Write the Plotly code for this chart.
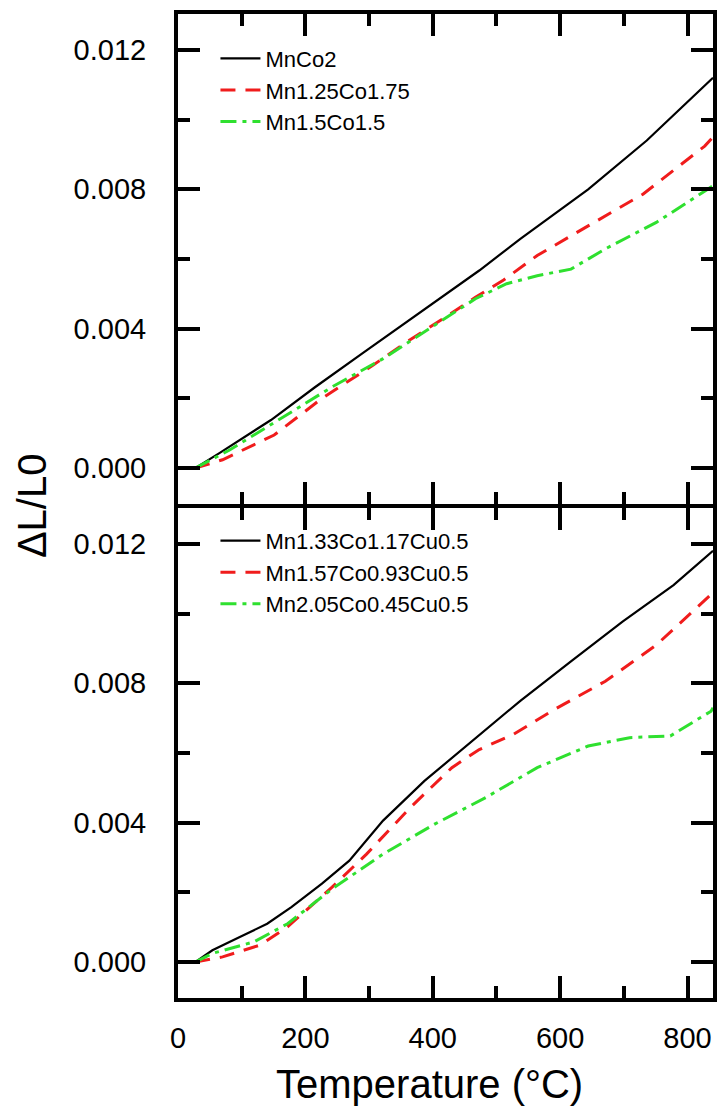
import plotly.graph_objects as go
from plotly.subplots import make_subplots

# ---------------- data ----------------
# Top panel
top_names = ["MnCo2", "Mn1.25Co1.75", "Mn1.5Co1.5"]
top_black_T = [27, 65, 146, 215, 290, 344, 403, 473, 537, 596, 644, 736, 840]
top_black_V = [0, 0.00043, 0.00138, 0.00232, 0.00330, 0.0040, 0.00475, 0.00567,
               0.00657, 0.00736, 0.0080, 0.0094, 0.0112]
top_red_T = [27, 70, 151, 226, 306, 355, 424, 467, 510, 564, 644, 730, 827, 840]
top_red_V = [0, 0.00024, 0.00095, 0.0020, 0.00295, 0.00357, 0.00438, 0.0049,
             0.00538, 0.0061, 0.00695, 0.00786, 0.00924, 0.0095]
top_green_T = [27, 81, 162, 242, 322, 403, 467, 516, 564, 617, 671, 751, 832, 840]
top_green_V = [0, 0.00052, 0.00143, 0.00233, 0.00314, 0.0041, 0.00486, 0.00529,
               0.00552, 0.00571, 0.00629, 0.00705, 0.0080, 0.0081]

# Bottom panel
bot_names = ["Mn1.33Co1.17Cu0.5", "Mn1.57Co0.93Cu0.5", "Mn2.05Co0.45Cu0.5"]
bot_black_T = [27, 54, 97, 140, 178, 226, 269, 322, 387, 462, 537, 617, 698, 778, 821, 840]
bot_black_V = [0, 0.00034, 0.00072, 0.0011, 0.00158, 0.00225, 0.00291, 0.00406,
               0.0052, 0.00634, 0.00749, 0.00863, 0.00977, 0.01082, 0.01149, 0.0118]
bot_red_T = [27, 70, 129, 172, 242, 296, 365, 430, 473, 526, 591, 671, 751, 837, 840]
bot_red_V = [0, 0.00015, 0.00049, 0.00101, 0.00215, 0.0031, 0.00444, 0.00558,
             0.0061, 0.00653, 0.00725, 0.00806, 0.0091, 0.01053, 0.0106]
bot_green_T = [27, 54, 119, 172, 242, 322, 403, 483, 564, 644, 709, 773, 837, 840]
bot_green_V = [0, 0.00025, 0.00058, 0.0011, 0.0021, 0.0031, 0.00396, 0.00472,
               0.00558, 0.0062, 0.00644, 0.00649, 0.0072, 0.0073]

y_ticks = [0.0, 0.004, 0.008, 0.012]
y_ticklabels = ["0.000", "0.004", "0.008", "0.012"]
x_ticks = [0, 200, 400, 600, 800]

# ---------------- styles ----------------
FONT = "Liberation Sans, Arial, sans-serif"
BLACK = "#000000"
RED = "#f01c1c"
GREEN = "#2fe02f"
styles = [
    dict(color=BLACK, width=2.2, dash="solid"),
    dict(color=RED, width=3, dash="15px,10px"),
    dict(color=GREEN, width=3, dash="16px,6px,4px,6px"),
]

fig = make_subplots(rows=2, cols=1, shared_xaxes=True, vertical_spacing=0)

top_series = [(top_black_T, top_black_V), (top_red_T, top_red_V), (top_green_T, top_green_V)]
bot_series = [(bot_black_T, bot_black_V), (bot_red_T, bot_red_V), (bot_green_T, bot_green_V)]

for (T, V), name, st in zip(top_series, top_names, styles):
    fig.add_trace(go.Scatter(x=T, y=V, mode="lines", name=name, line=st,
                             legend="legend"), row=1, col=1)
for (T, V), name, st in zip(bot_series, bot_names, styles):
    fig.add_trace(go.Scatter(x=T, y=V, mode="lines", name=name, line=st,
                             legend="legend2"), row=2, col=1)

axis_common = dict(
    showline=True, linewidth=4, linecolor="black", mirror="ticks",
    ticks="inside", ticklen=22, tickwidth=4, tickcolor="black",
    showgrid=False, zeroline=False,
    tickfont=dict(family=FONT, size=29, color="black"),
)

xcommon = dict(axis_common, range=[0, 840], tickvals=x_ticks,
               minor=dict(ticks="inside", ticklen=12, tickwidth=4, tickcolor="black",
                          dtick=100, tick0=0, showgrid=False))
ycommon = dict(axis_common, range=[-0.00103, 0.01303], tickvals=y_ticks,
               ticktext=y_ticklabels, ticklabelstandoff=22,
               minor=dict(ticks="inside", ticklen=12, tickwidth=4, tickcolor="black",
                          dtick=0.002, tick0=0, showgrid=False))

fig.update_xaxes(**xcommon)
fig.update_xaxes(showticklabels=False, row=1, col=1)
fig.update_xaxes(ticklabelstandoff=11, row=2, col=1)
fig.update_yaxes(**ycommon)

# small gap so the two panels' shared border lines coincide
half_gap = 2.0 / 984
fig.update_layout(
    yaxis=dict(domain=[0.5 + half_gap, 1.0]),
    yaxis2=dict(domain=[0.0, 0.5 - half_gap]),
)

legend_common = dict(
    font=dict(family=FONT, size=22, color="black"),
    bgcolor="rgba(0,0,0,0)", borderwidth=0,
    xanchor="left", yanchor="top", itemwidth=40, tracegroupgap=0,
)

fig.update_layout(
    width=720, height=1108,
    margin=dict(l=178, r=3, t=14, b=110),
    paper_bgcolor="white", plot_bgcolor="white",
    showlegend=True,
    legend=dict(legend_common, x=0.07, y=0.976),
    legend2=dict(legend_common, x=0.07, y=0.486),
    annotations=[
        dict(text="ΔL/L0", xref="paper", yref="paper", x=-0.2727, y=0.5,
             textangle=-90, showarrow=False, xanchor="center", yanchor="middle",
             font=dict(family=FONT, size=40, color="black")),
        dict(text="Temperature (°C)", xref="paper", yref="paper", x=0.471, y=-0.087,
             showarrow=False, xanchor="center", yanchor="middle",
             font=dict(family=FONT, size=40, color="black")),
    ],
)

fig.write_html("out.html")
